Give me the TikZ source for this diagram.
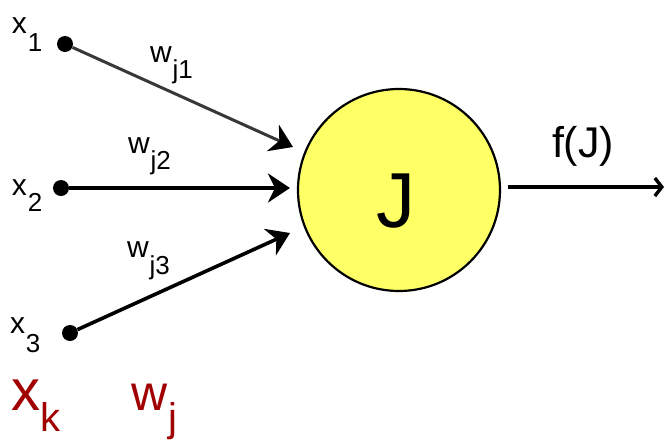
\documentclass[tikz,border=0pt]{standalone}
\usepackage{fontspec}
\setmainfont{Liberation Sans}
\usetikzlibrary{arrows.meta}
\definecolor{nodeyellow}{HTML}{FFFF66}
\definecolor{darkred}{HTML}{A00000}
\newcommand{\fs}[1]{\fontsize{#1}{#1}\selectfont}
\newcommand{\ilbl}[5]{{\fs{#1}#2}\raisebox{-#5pt}{\fs{#3}\kern1pt #4}}
\begin{document}
\begin{tikzpicture}[x=1pt,y=-1pt,
  dot/.style={circle,fill=black,inner sep=0pt,minimum size=16pt},
  neuron/.style={circle,draw=black,line width=2.2pt,fill=nodeyellow,minimum size=202pt,inner sep=0pt},
  inarrow/.style={line width=3.6pt,-{Stealth[length=22pt,width=29pt,inset=7pt,color=black]}},
  txt/.style={anchor=base west,inner sep=0pt,outer sep=0pt}]
\useasboundingbox (0,0) rectangle (665,440);
\node[dot] (x1) at (65,44) {};
\node[dot] (x2) at (61,188) {};
\node[dot] (x3) at (70,333) {};
\node[neuron] (J) at (399,190) {};
\node[txt] (Jl) at (376,227) {\fs{78}J};
\coordinate (t1) at (293,147);
\coordinate (t2) at (290,188);
\coordinate (t3) at (290,233);
\coordinate (o1) at (508,187);
\coordinate (out) at (664,187);
\draw[inarrow,draw=black!78,line width=3pt] (x1) -- (t1);
\draw[inarrow] (x2) -- (t2);
\draw[inarrow] (x3) -- (t3);
\draw[line width=3.2pt,-{Straight Barb[length=7pt,width=18pt,line width=3.4pt]}] (o1) -- (out);
\node[txt] (lx1) at (12,33) {\ilbl{30}{x}{26}{1}{18}};
\node[txt] (lx2) at (12,195) {\ilbl{30}{x}{26}{2}{16}};
\node[txt] (lx3) at (10,333) {\ilbl{30}{x}{26}{3}{19}};
\node[txt] (lw1) at (150,62) {\ilbl{30}{w}{26}{j1}{16}};
\node[txt] (lw2) at (128,153) {\ilbl{30}{w}{26}{j2}{16}};
\node[txt] (lw3) at (127,257) {\ilbl{30}{w}{26}{j3}{17}};
\node[txt] (lf) at (552,157) {\fs{43}f(J)};
\node[txt,text=darkred] (lxk) at (11,410) {\ilbl{58}{x}{40}{k}{21}};
\node[txt,text=darkred] (lwj) at (131,410) {\ilbl{50}{w}{40}{j}{21}};
\end{tikzpicture}
\end{document}
